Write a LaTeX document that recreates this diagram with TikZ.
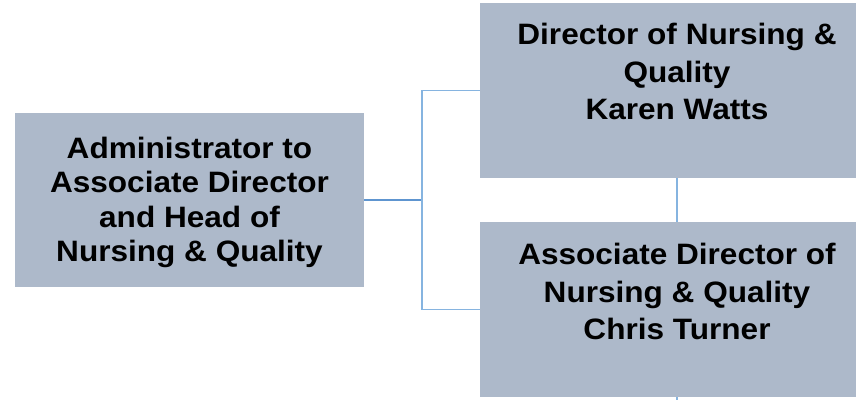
\documentclass[tikz,border=0pt]{standalone}
\usepackage{fontspec}
\newfontfamily\orgfont[FakeStretch=1.07]{Liberation Sans}
\usepackage{xcolor}
\usetikzlibrary{positioning, calc}

\definecolor{boxfill}{HTML}{ADB9CA}
\definecolor{linklight}{HTML}{86B4E0}
\definecolor{linkdark}{HTML}{5E95D0}

\begin{document}
\begin{tikzpicture}[x=1pt, y=-1pt,
  orgbox/.style={fill=boxfill, draw=none, inner sep=0pt},
  orgtext/.style={align=center, text=black, inner sep=0pt,
                  font=\orgfont\bfseries\fontsize{29.5}{37.5}\selectfont},
  link/.style={draw=linklight, line width=1.8pt},
  linkd/.style={draw=linkdark, line width=1.8pt}]

\useasboundingbox (0,0) rectangle (856,399);

% boxes
\node[orgbox, minimum width=349pt, minimum height=174pt] (admin) at (189.5,200) {};
\node[orgbox, minimum width=394pt, minimum height=175pt] (dirnq) at (677,90.5) {};
\node[orgbox, minimum width=394pt, minimum height=175pt] (assocdir) at (677,309.5) {};

% texts
\node[orgtext, font=\orgfont\bfseries\fontsize{29.5}{34.3}\selectfont]
  (admintxt) at ([yshift=-2.5pt]admin.center)
  {Administrator to\\Associate Director\\and Head of\\Nursing \& Quality};
\node[orgtext] (dirnqtxt) at ([yshift=19pt]dirnq.center)
  {Director of Nursing \&\\Quality\\Karen Watts};
\node[orgtext] (assocdirtxt) at ([yshift=18pt]assocdir.center)
  {Associate Director of\\Nursing \& Quality\\Chris Turner};

% connectors
\coordinate (jn) at (422,200);
\coordinate (stub) at (677,410);
\draw[linkd] (admin.east) -- (jn);
\draw[link] (dirnq.west) -| (jn) |- (assocdir.west);
\draw[link] (dirnq.south) -- (assocdir.north);
\draw[link] (assocdir.south) -- (stub);

\end{tikzpicture}
\end{document}
